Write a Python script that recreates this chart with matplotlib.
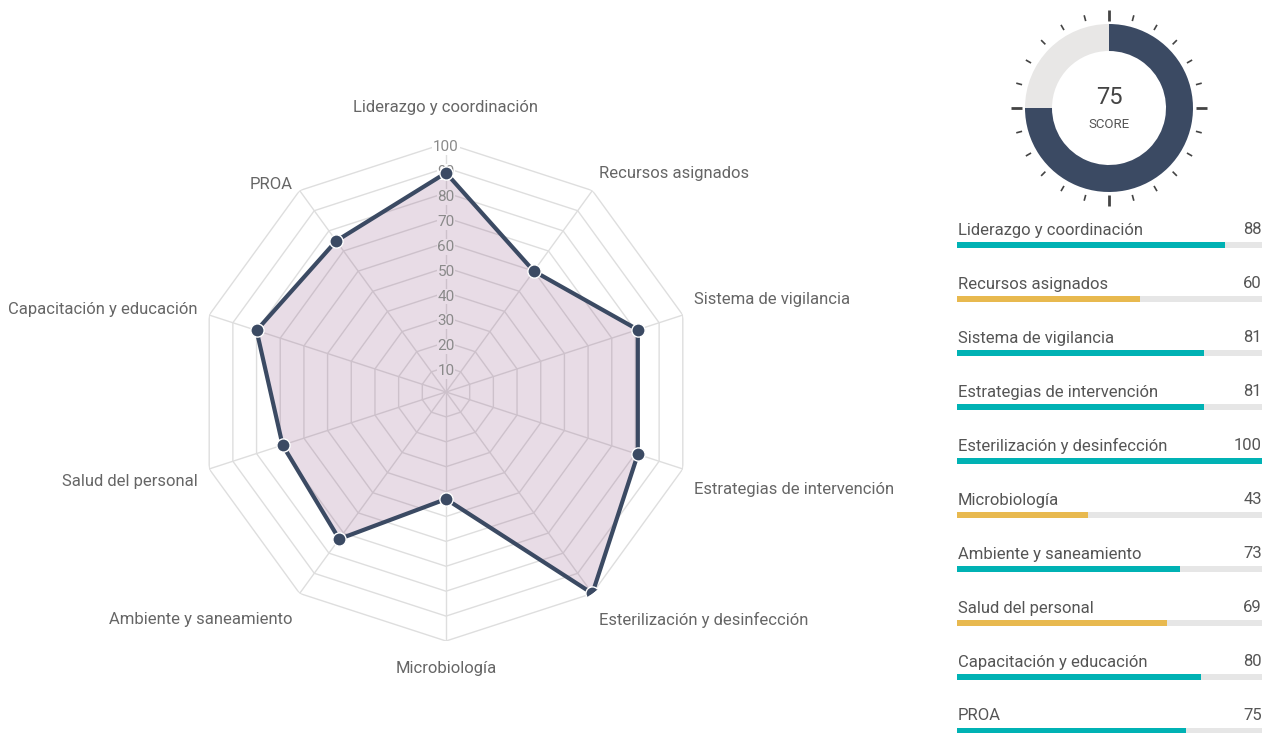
import matplotlib.pyplot as plt
import numpy as np

plt.rcParams['font.family'] = ['Roboto', 'DejaVu Sans']

# data
categories = ["Liderazgo y coordinación", "Recursos asignados", "Sistema de vigilancia",
              "Estrategias de intervención", "Esterilización y desinfección", "Microbiología",
              "Ambiente y saneamiento", "Salud del personal", "Capacitación y educación", "PROA"]
scores = [88, 60, 81, 81, 100, 43, 73, 69, 80, 75]
radial_ticks = [10, 20, 30, 40, 50, 60, 70, 80, 90, 100]
total_score = 75

# small vertical nudges (px, down positive) for the radar labels
label_nudge = [-2, 0, -4, 4, 4, 3, 4, -4, 6, 11]

DARK = "#3b4a63"
GRID = "#dedede"
TEAL = "#00b2b4"
YELLOW = "#e8b94f"
TRACK = "#e6e6e6"
W, H = 1265, 733

fig = plt.figure(figsize=(W / 100, H / 100), dpi=100)

# ---- radar ----
cx, cy, R = 446, 392, 249
ax = fig.add_axes([(cx - R) / W, (H - cy - R) / H, 2 * R / W, 2 * R / H], projection="polar")
ax.set_theta_zero_location("N")
ax.set_theta_direction(-1)
ax.set_ylim(0, 100)
ax.axis("off")

n = len(categories)
theta = np.arange(n) * 2 * np.pi / n
closed = np.append(theta, theta[0])

for r in radial_ticks:
    ax.plot(closed, [r] * (n + 1), color=GRID, lw=1, zorder=1)
for t in theta:
    ax.plot([t, t], [0, 100], color=GRID, lw=1, zorder=1)

vals = np.append(scores, scores[0])
ax.fill(closed, vals, color=(140 / 255, 80 / 255, 130 / 255), alpha=0.2, lw=0, zorder=2)
ax.plot(closed, vals, color=DARK, lw=3, zorder=4)
ax.plot(theta, scores, "o", ms=9.5, mfc=DARK, mec="white", mew=1.0, zorder=5)

for r in radial_ticks:
    bg = "white" if r > scores[0] else "#e8dce6"
    ax.annotate(str(r), xy=(0, r), xytext=(0, -3), textcoords="offset points",
                ha="center", va="center", fontsize=11, color="#8a8a8a", zorder=3,
                bbox=dict(boxstyle="square,pad=0.05", fc=bg, ec="none"))

for t, lab, nud in zip(theta, categories, label_nudge):
    s, c = np.sin(t), np.cos(t)
    pad = 12 + (14 if abs(t) < 1e-6 else 0)
    dx, dy = s * pad, c * pad
    if abs(s) < 1e-6:
        ha = "center"
    else:
        ha = "left" if s > 0 else "right"
    va = "bottom" if c > 0 else "top"
    if c < 0:
        dy -= 5
    dy -= nud
    ax.annotate(lab, xy=(t, 100), xytext=(dx * 0.72, dy * 0.72), textcoords="offset points",
                ha=ha, va=va, fontsize=12, color="#666666")

# ---- gauge ----
gx, gy, gs = 1109, 108, 110
gax = fig.add_axes([(gx - gs) / W, (H - gy - gs) / H, 2 * gs / W, 2 * gs / H])
gax.pie([total_score, 100 - total_score], colors=[DARK, "#e8e7e6"], startangle=90,
        counterclock=False, radius=84, wedgeprops=dict(width=27, lw=0), frame=True)
gax.set_xlim(-gs, gs)
gax.set_ylim(-gs, gs)
gax.set_aspect("equal")
gax.axis("off")
for k in range(24):
    a = np.deg2rad(90 - k * 15)
    r0, r1, lw = (87, 98, 2) if k % 6 == 0 else (90, 96, 1.2)
    gax.plot([r0 * np.cos(a), r1 * np.cos(a)], [r0 * np.sin(a), r1 * np.sin(a)],
             color="#444444", lw=lw, solid_capstyle="butt")
gax.text(0, 11, str(total_score), ha="center", va="center", fontsize=17, color="#444444")
gax.text(0, -16, "SCORE", ha="center", va="center", fontsize=9.5, color="#555555")

# ---- bars ----
bx0, bw = 957, 305
top_px, row_px = 215, 54
bax = fig.add_axes([bx0 / W, 0, bw / W, (H - top_px) / H])
rows = np.arange(n)
first_bar = (245 - top_px) / row_px
bax.set_ylim((H - top_px) / row_px - first_bar, -first_bar)
bax.set_xlim(0, 100)
bax.axis("off")
bh = 6 / row_px
bax.barh(rows, [100] * n, height=bh, color=TRACK)
bax.barh(rows, scores, height=bh, color=[TEAL if v >= 70 else YELLOW for v in scores])
for i, (lab, v) in enumerate(zip(categories, scores)):
    bax.text(0.3, i - 15 / row_px, lab, ha="left", va="center", fontsize=12, color="#555555")
    bax.text(100, i - 15 / row_px, str(v), ha="right", va="center", fontsize=12, color="#555555")

fig.savefig("out.png", dpi=100, facecolor="white")
